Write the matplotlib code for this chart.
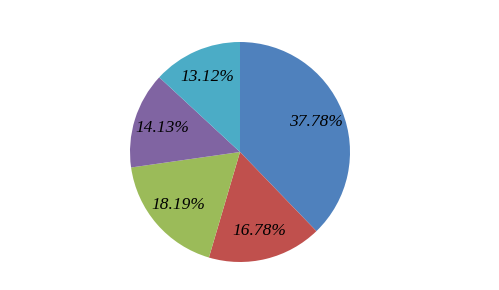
import matplotlib.pyplot as plt

shares = [37.78, 16.78, 18.19, 14.13, 13.12]
colors = ['#4F81BD', '#C0504D', '#9BBB59', '#8064A2', '#4BACC6']

fig = plt.figure(figsize=(4.99, 2.90), dpi=100)
ax = fig.add_axes([130 / 499, 1 - 262 / 290, 220 / 499, 220 / 290])
wedges, texts, autotexts = ax.pie(shares, colors=colors, startangle=90, counterclock=False,
                                  autopct=lambda p: f"{p:.2f}%", pctdistance=0.74,
                                  wedgeprops={'linewidth': 0},
                                  textprops={'family': 'Liberation Serif', 'style': 'italic',
                                             'size': 12.5, 'color': 'black'})
ax.set_xlim(-1, 1)
ax.set_ylim(-1, 1)
fig.savefig('out.png', dpi=100)
